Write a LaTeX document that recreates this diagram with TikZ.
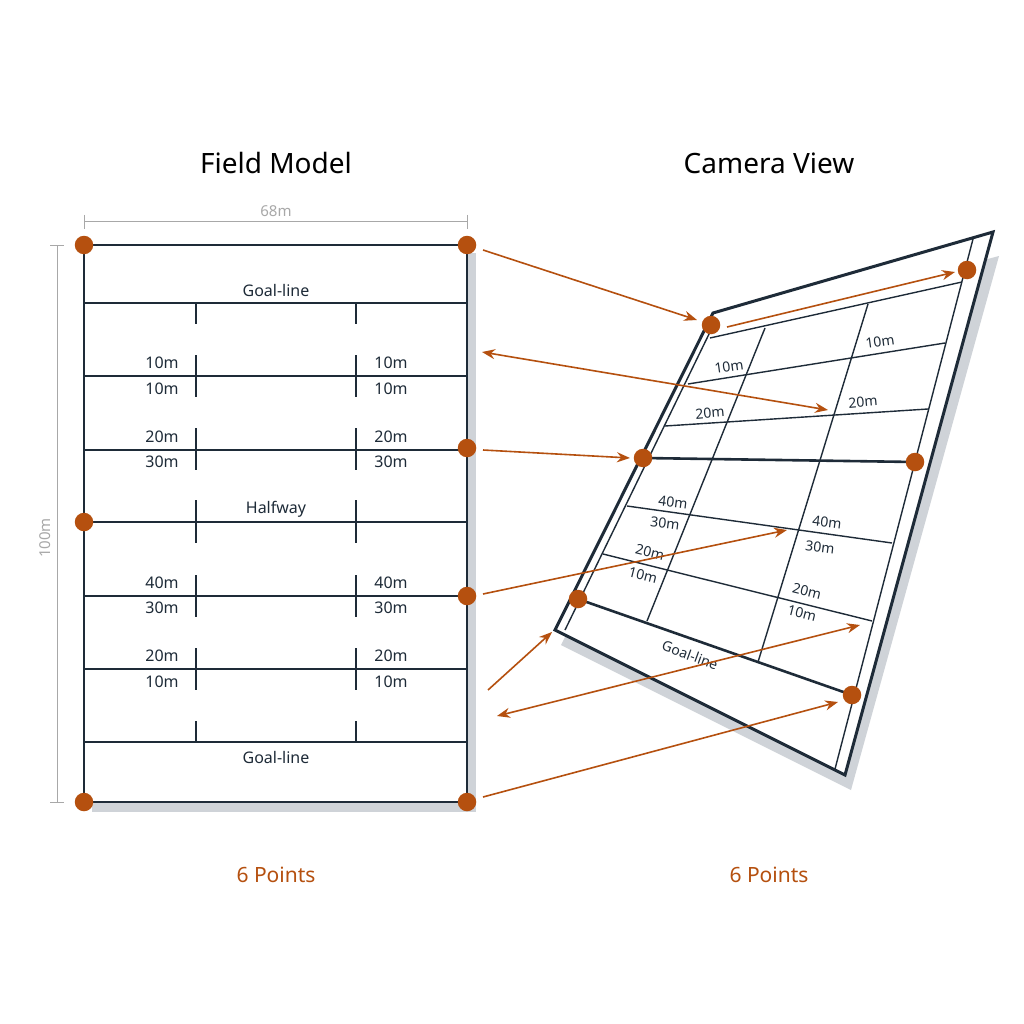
\documentclass[tikz,border=0pt]{standalone}
\usepackage{fontspec}
\setmainfont{Noto Sans}
\usetikzlibrary{arrows.meta}
\definecolor{ink}{HTML}{1E2B38}
\definecolor{org}{HTML}{B5500F}
\definecolor{dim}{HTML}{A8A8A8}
\definecolor{shd}{HTML}{CFD3D8}
\begin{document}
\begin{tikzpicture}[x=1pt,y=-1pt,
  fl/.style={ink,line width=1.4pt},
  thick line/.style={ink,line width=2.6pt},
  tk/.style={ink,line width=1.4pt},
  lab/.style={font=\fontsize{16}{16}\selectfont,text=ink,inner sep=1pt},
  clab/.style={font=\fontsize{14}{14}\selectfont,text=ink,inner sep=1pt},
  dot/.style={circle,fill=org,minimum size=18.5pt,inner sep=0pt},
  arr/.style={org,line width=1.6pt,-{Stealth[length=13pt,width=10pt]}},
  darr/.style={org,line width=1.6pt,{Stealth[length=13pt,width=10pt]}-{Stealth[length=13pt,width=10pt]}},
  title/.style={font=\fontsize{28}{28}\selectfont,text=black},
  pts/.style={font=\fontsize{21}{21}\selectfont,text=org}]
\useasboundingbox (0,0) rectangle (1024,1024);
\fill[white] (0,0) rectangle (1024,1024);
% ---------- Field model ----------
\node[title] (t1) at (276,163) {Field Model};
\node[title] (t2) at (769,163) {Camera View};
\fill[shd] (92,253) rectangle (476,812);
\fill[white] (84,245) rectangle (467,802);
% dimensions
\coordinate (da) at (84,222); \coordinate (db) at (467,222);
\draw[dim,line width=1pt] (da) -- (db);
\draw[dim,line width=1pt] (84,215) -- (84,229) (467,215) -- (467,229);
\node[font=\fontsize{15}{15}\selectfont,text=dim] (d68) at (276,211) {68m};
\coordinate (dc) at (57,245); \coordinate (dd) at (57,802);
\draw[dim,line width=1pt] (dc) -- (dd);
\draw[dim,line width=1pt] (50,245) -- (64,245) (50,802) -- (64,802);
\node[font=\fontsize{15}{15}\selectfont,text=dim,rotate=90] (d100) at (45,538) {100m};
% lines
\draw[fl] (84,303) -- (467,303);
\draw[fl] (84,376) -- (467,376);
\draw[fl] (84,450) -- (467,450);
\draw[thick line] (84,522) -- (467,522);
\draw[fl] (84,596) -- (467,596);
\draw[fl] (84,669) -- (467,669);
\draw[fl] (84,742) -- (467,742);
\foreach \x in {196,356}{
  \draw[tk] (\x,303) -- (\x,324);
  \draw[tk] (\x,355) -- (\x,397);
  \draw[tk] (\x,428) -- (\x,470);
  \draw[tk] (\x,500) -- (\x,543);
  \draw[tk] (\x,575) -- (\x,617);
  \draw[tk] (\x,648) -- (\x,690);
  \draw[tk] (\x,721) -- (\x,742);
}
\draw[thick line] (84,245) rectangle (467,802);
\node[lab] (gl1) at (276,290) {Goal-line};
\node[lab] (hw) at (276,509) {Halfway};
\node[lab] (gl2) at (276,757) {Goal-line};
\foreach \x/\n in {162/a,391/b}{
  \node[lab] (u1\n) at (\x,363) {10m}; \node[lab] (v1\n) at (\x,389) {10m};
  \node[lab] (u2\n) at (\x,437) {20m}; \node[lab] (v2\n) at (\x,462) {30m};
  \node[lab] (u3\n) at (\x,583) {40m}; \node[lab] (v3\n) at (\x,608) {30m};
  \node[lab] (u4\n) at (\x,656) {20m}; \node[lab] (v4\n) at (\x,682) {10m};
}
\node[dot] (L1) at (84,245) {};
\node[dot] (L2) at (467,245) {};
\node[dot] (L3) at (467,448) {};
\node[dot] (L4) at (84,522) {};
\node[dot] (L5) at (467,596) {};
\node[dot] (L6) at (84,802) {};
\node[dot] (L7) at (467,802) {};
% ---------- Camera view ----------
\fill[shd] (719,330) -- (999,256) -- (851,790) -- (561,645) -- cycle;
\fill[white] (713,313) -- (993,232) -- (845,775) -- (555,630) -- cycle;
\draw[fl] (710,332) -- (565,630);
\draw[fl] (973,239) -- (835,769);
\draw[fl] (710,338) -- (962,282);
\draw[fl] (688,384) -- (945,343);
\draw[fl] (665,426) -- (928,409);
\draw[thick line] (643,458) -- (915,462);
\draw[fl] (627,506) -- (892,543);
\draw[fl] (603,554) -- (872,621);
\draw[thick line] (578,599) -- (852,695);
\draw[fl] (765,328) -- (647,621);
\draw[fl] (868,304) -- (758,662);
\draw[ink,line width=3pt,line join=miter] (713,313) -- (993,232) -- (845,775) -- (555,630) -- cycle;
\node[clab,rotate=8] (c1) at (729,367) {10m};
\node[clab,rotate=8] (c2) at (880,342) {10m};
\node[clab,rotate=5] (c3) at (710,413) {20m};
\node[clab,rotate=5] (c4) at (863,402) {20m};
\node[clab,rotate=-7] (c5) at (673,502) {40m};
\node[clab,rotate=-7] (c6) at (665,523) {30m};
\node[clab,rotate=-7] (c7) at (827,522) {40m};
\node[clab,rotate=-7] (c8) at (820,547) {30m};
\node[clab,rotate=-14] (c9) at (650,552) {20m};
\node[clab,rotate=-14] (c10) at (643,575) {10m};
\node[clab,rotate=-14] (c11) at (807,591) {20m};
\node[clab,rotate=-14] (c12) at (802,613) {10m};
\node[clab,rotate=-20] (c13) at (690,655) {Goal-line};
\node[dot] (R1) at (711,325) {};
\node[dot] (R2) at (967,270) {};
\node[dot] (R3) at (643,458) {};
\node[dot] (R4) at (915,462) {};
\node[dot] (R5) at (578,599) {};
\node[dot] (R6) at (852,695) {};
% arrows
\coordinate (a1s) at (483,250); \coordinate (a1e) at (697,320);
\coordinate (a2s) at (727,327); \coordinate (a2e) at (955,272);
\coordinate (a3s) at (482,352); \coordinate (a3e) at (828,410);
\coordinate (a4s) at (483,450); \coordinate (a4e) at (630,458);
\coordinate (a5s) at (483,594); \coordinate (a5e) at (787,530);
\coordinate (a6s) at (488,690); \coordinate (a6e) at (552,632);
\coordinate (a7s) at (497,716); \coordinate (a7e) at (860,625);
\coordinate (a8s) at (483,797); \coordinate (a8e) at (838,702);
\draw[arr] (a1s) -- (a1e);
\draw[arr] (a2s) -- (a2e);
\draw[darr] (a3s) -- (a3e);
\draw[arr] (a4s) -- (a4e);
\draw[arr] (a5s) -- (a5e);
\draw[arr] (a6s) -- (a6e);
\draw[darr] (a7s) -- (a7e);
\draw[arr] (a8s) -- (a8e);
\node[pts] (p1) at (276,875) {6 Points};
\node[pts] (p2) at (769,875) {6 Points};
\end{tikzpicture}
\end{document}
